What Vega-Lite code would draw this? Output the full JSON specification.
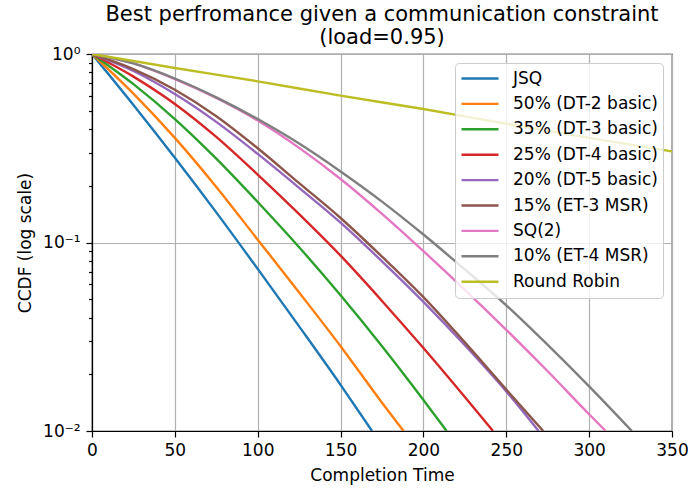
{
  "$schema": "https://vega.github.io/schema/vega-lite/v6.json",
  "width": 580,
  "height": 377,
  "autosize": "none",
  "padding": {"left": 92, "top": 54, "right": 16, "bottom": 58},
  "title": {
    "text": ["Best perfromance given a communication constraint", "(load=0.95)"],
    "font": "DejaVu Sans",
    "fontSize": 21,
    "fontWeight": "normal",
    "color": "black",
    "anchor": "middle",
    "offset": -3,
    "lineHeight": 23
  },
  "config": {
    "font": "DejaVu Sans",
    "view": {"stroke": "black", "strokeWidth": 1.2},
    "axis": {
      "labelFont": "DejaVu Sans",
      "titleFont": "DejaVu Sans",
      "labelFontSize": 17,
      "titleFontSize": 17,
      "titleFontWeight": "normal",
      "labelColor": "black",
      "titleColor": "black",
      "domainColor": "black",
      "tickColor": "black",
      "domainWidth": 1.2,
      "tickWidth": 1.2,
      "gridColor": "#b0b0b0",
      "gridWidth": 1.2
    },
    "legend": {
      "orient": "top-right",
      "offset": 9,
      "fillColor": "rgba(255,255,255,0.8)",
      "strokeColor": "#cccccc",
      "cornerRadius": 4,
      "padding": 5,
      "labelFont": "DejaVu Sans",
      "labelFontSize": 17,
      "labelColor": "black",
      "symbolType": "stroke",
      "symbolStrokeWidth": 2.4,
      "symbolSize": 1369,
      "clipHeight": 21,
      "rowPadding": 4.4,
      "labelOffset": 13
    }
  },
  "data": {
    "values": [
      {"s": "JSQ", "t": 0, "p": 1},
      {"s": "JSQ", "t": 25, "p": 0.537},
      {"s": "JSQ", "t": 50, "p": 0.2818},
      {"s": "JSQ", "t": 75, "p": 0.1445},
      {"s": "JSQ", "t": 100, "p": 0.07244},
      {"s": "JSQ", "t": 125, "p": 0.03589},
      {"s": "JSQ", "t": 150, "p": 0.01758},
      {"s": "JSQ", "t": 169, "p": 0.01},

      {"s": "50% (DT-2 basic)", "t": 0, "p": 1},
      {"s": "50% (DT-2 basic)", "t": 25, "p": 0.6166},
      {"s": "50% (DT-2 basic)", "t": 50, "p": 0.3589},
      {"s": "50% (DT-2 basic)", "t": 75, "p": 0.1972},
      {"s": "50% (DT-2 basic)", "t": 100, "p": 0.1035},
      {"s": "50% (DT-2 basic)", "t": 125, "p": 0.0543},
      {"s": "50% (DT-2 basic)", "t": 150, "p": 0.02818},
      {"s": "50% (DT-2 basic)", "t": 175, "p": 0.01413},
      {"s": "50% (DT-2 basic)", "t": 188, "p": 0.01},

      {"s": "35% (DT-3 basic)", "t": 0, "p": 1},
      {"s": "35% (DT-3 basic)", "t": 25, "p": 0.6918},
      {"s": "35% (DT-3 basic)", "t": 50, "p": 0.4519},
      {"s": "35% (DT-3 basic)", "t": 75, "p": 0.2786},
      {"s": "35% (DT-3 basic)", "t": 100, "p": 0.1641},
      {"s": "35% (DT-3 basic)", "t": 125, "p": 0.0944},
      {"s": "35% (DT-3 basic)", "t": 150, "p": 0.05248},
      {"s": "35% (DT-3 basic)", "t": 175, "p": 0.02818},
      {"s": "35% (DT-3 basic)", "t": 200, "p": 0.01462},
      {"s": "35% (DT-3 basic)", "t": 214, "p": 0.01},

      {"s": "25% (DT-4 basic)", "t": 0, "p": 1},
      {"s": "25% (DT-4 basic)", "t": 25, "p": 0.7586},
      {"s": "25% (DT-4 basic)", "t": 50, "p": 0.5433},
      {"s": "25% (DT-4 basic)", "t": 75, "p": 0.3631},
      {"s": "25% (DT-4 basic)", "t": 100, "p": 0.2291},
      {"s": "25% (DT-4 basic)", "t": 125, "p": 0.1413},
      {"s": "25% (DT-4 basic)", "t": 150, "p": 0.08511},
      {"s": "25% (DT-4 basic)", "t": 175, "p": 0.04898},
      {"s": "25% (DT-4 basic)", "t": 200, "p": 0.02754},
      {"s": "25% (DT-4 basic)", "t": 225, "p": 0.01514},
      {"s": "25% (DT-4 basic)", "t": 242, "p": 0.01},

      {"s": "20% (DT-5 basic)", "t": 0, "p": 1},
      {"s": "20% (DT-5 basic)", "t": 25, "p": 0.8128},
      {"s": "20% (DT-5 basic)", "t": 50, "p": 0.6138},
      {"s": "20% (DT-5 basic)", "t": 75, "p": 0.4365},
      {"s": "20% (DT-5 basic)", "t": 100, "p": 0.2951},
      {"s": "20% (DT-5 basic)", "t": 125, "p": 0.195},
      {"s": "20% (DT-5 basic)", "t": 150, "p": 0.1274},
      {"s": "20% (DT-5 basic)", "t": 175, "p": 0.07943},
      {"s": "20% (DT-5 basic)", "t": 200, "p": 0.04842},
      {"s": "20% (DT-5 basic)", "t": 225, "p": 0.02851},
      {"s": "20% (DT-5 basic)", "t": 250, "p": 0.01622},
      {"s": "20% (DT-5 basic)", "t": 269.5, "p": 0.01},

      {"s": "15% (ET-3 MSR)", "t": 0, "p": 1},
      {"s": "15% (ET-3 MSR)", "t": 25, "p": 0.8318},
      {"s": "15% (ET-3 MSR)", "t": 50, "p": 0.6457},
      {"s": "15% (ET-3 MSR)", "t": 75, "p": 0.4677},
      {"s": "15% (ET-3 MSR)", "t": 100, "p": 0.3162},
      {"s": "15% (ET-3 MSR)", "t": 125, "p": 0.2065},
      {"s": "15% (ET-3 MSR)", "t": 150, "p": 0.1349},
      {"s": "15% (ET-3 MSR)", "t": 175, "p": 0.08414},
      {"s": "15% (ET-3 MSR)", "t": 200, "p": 0.05129},
      {"s": "15% (ET-3 MSR)", "t": 225, "p": 0.02951},
      {"s": "15% (ET-3 MSR)", "t": 250, "p": 0.0166},
      {"s": "15% (ET-3 MSR)", "t": 272.3, "p": 0.01},

      {"s": "SQ(2)", "t": 0, "p": 1},
      {"s": "SQ(2)", "t": 25, "p": 0.8913},
      {"s": "SQ(2)", "t": 50, "p": 0.7362},
      {"s": "SQ(2)", "t": 75, "p": 0.5848},
      {"s": "SQ(2)", "t": 100, "p": 0.4436},
      {"s": "SQ(2)", "t": 125, "p": 0.3177},
      {"s": "SQ(2)", "t": 150, "p": 0.2173},
      {"s": "SQ(2)", "t": 175, "p": 0.1419},
      {"s": "SQ(2)", "t": 200, "p": 0.08995},
      {"s": "SQ(2)", "t": 225, "p": 0.0561},
      {"s": "SQ(2)", "t": 250, "p": 0.03443},
      {"s": "SQ(2)", "t": 275, "p": 0.02075},
      {"s": "SQ(2)", "t": 300, "p": 0.01227},
      {"s": "SQ(2)", "t": 310, "p": 0.01},

      {"s": "10% (ET-4 MSR)", "t": 0, "p": 1},
      {"s": "10% (ET-4 MSR)", "t": 25, "p": 0.8913},
      {"s": "10% (ET-4 MSR)", "t": 50, "p": 0.7413},
      {"s": "10% (ET-4 MSR)", "t": 75, "p": 0.5888},
      {"s": "10% (ET-4 MSR)", "t": 100, "p": 0.4519},
      {"s": "10% (ET-4 MSR)", "t": 125, "p": 0.335},
      {"s": "10% (ET-4 MSR)", "t": 150, "p": 0.2382},
      {"s": "10% (ET-4 MSR)", "t": 175, "p": 0.1648},
      {"s": "10% (ET-4 MSR)", "t": 200, "p": 0.1102},
      {"s": "10% (ET-4 MSR)", "t": 225, "p": 0.07194},
      {"s": "10% (ET-4 MSR)", "t": 250, "p": 0.04645},
      {"s": "10% (ET-4 MSR)", "t": 275, "p": 0.02864},
      {"s": "10% (ET-4 MSR)", "t": 300, "p": 0.01726},
      {"s": "10% (ET-4 MSR)", "t": 325.8, "p": 0.01},

      {"s": "Round Robin", "t": 0, "p": 1},
      {"s": "Round Robin", "t": 50, "p": 0.843},
      {"s": "Round Robin", "t": 100, "p": 0.716},
      {"s": "Round Robin", "t": 150, "p": 0.601},
      {"s": "Round Robin", "t": 200, "p": 0.5105},
      {"s": "Round Robin", "t": 250, "p": 0.4266},
      {"s": "Round Robin", "t": 300, "p": 0.359},
      {"s": "Round Robin", "t": 350, "p": 0.304}
    ]
  },
  "mark": {"type": "line", "strokeWidth": 2.4, "interpolate": "monotone", "clip": true},
  "encoding": {
    "x": {
      "field": "t",
      "type": "quantitative",
      "scale": {"domain": [0, 350], "nice": false, "zero": false},
      "axis": {
        "title": "Completion Time",
        "values": [0, 50, 100, 150, 200, 250, 300, 350],
        "grid": true,
        "labelFlush": false,
        "tickSize": 6,
        "labelPadding": 5,
        "titlePadding": 9
      }
    },
    "y": {
      "field": "p",
      "type": "quantitative",
      "scale": {"type": "log", "domain": [0.01, 1], "nice": false},
      "axis": {
        "title": "CCDF (log scale)",
        "values": [0.01, 0.02, 0.03, 0.04, 0.05, 0.06, 0.07, 0.08, 0.09, 0.1, 0.2, 0.3, 0.4, 0.5, 0.6, 0.7, 0.8, 0.9, 1],
        "labelExpr": "datum.value == 1 ? '10⁰' : datum.value == 0.1 ? '10⁻¹' : datum.value == 0.01 ? '10⁻²' : ''",
        "grid": true,
        "gridOpacity": {"condition": {"test": "datum.value == 1 || datum.value == 0.1 || datum.value == 0.01", "value": 1}, "value": 0},
        "tickSize": {"condition": {"test": "datum.value == 1 || datum.value == 0.1 || datum.value == 0.01", "value": 6}, "value": 3.5},
        "labelPadding": 6,
        "titlePadding": 8,
        "labelOverlap": false
      }
    },
    "color": {
      "field": "s",
      "type": "nominal",
      "sort": ["JSQ", "50% (DT-2 basic)", "35% (DT-3 basic)", "25% (DT-4 basic)", "20% (DT-5 basic)", "15% (ET-3 MSR)", "SQ(2)", "10% (ET-4 MSR)", "Round Robin"],
      "scale": {
        "domain": ["JSQ", "50% (DT-2 basic)", "35% (DT-3 basic)", "25% (DT-4 basic)", "20% (DT-5 basic)", "15% (ET-3 MSR)", "SQ(2)", "10% (ET-4 MSR)", "Round Robin"],
        "range": ["#1f77b4", "#ff7f0e", "#2ca02c", "#d62728", "#9467bd", "#8c564b", "#e377c2", "#7f7f7f", "#bcbd22"]
      },
      "legend": {"title": null}
    }
  }
}
